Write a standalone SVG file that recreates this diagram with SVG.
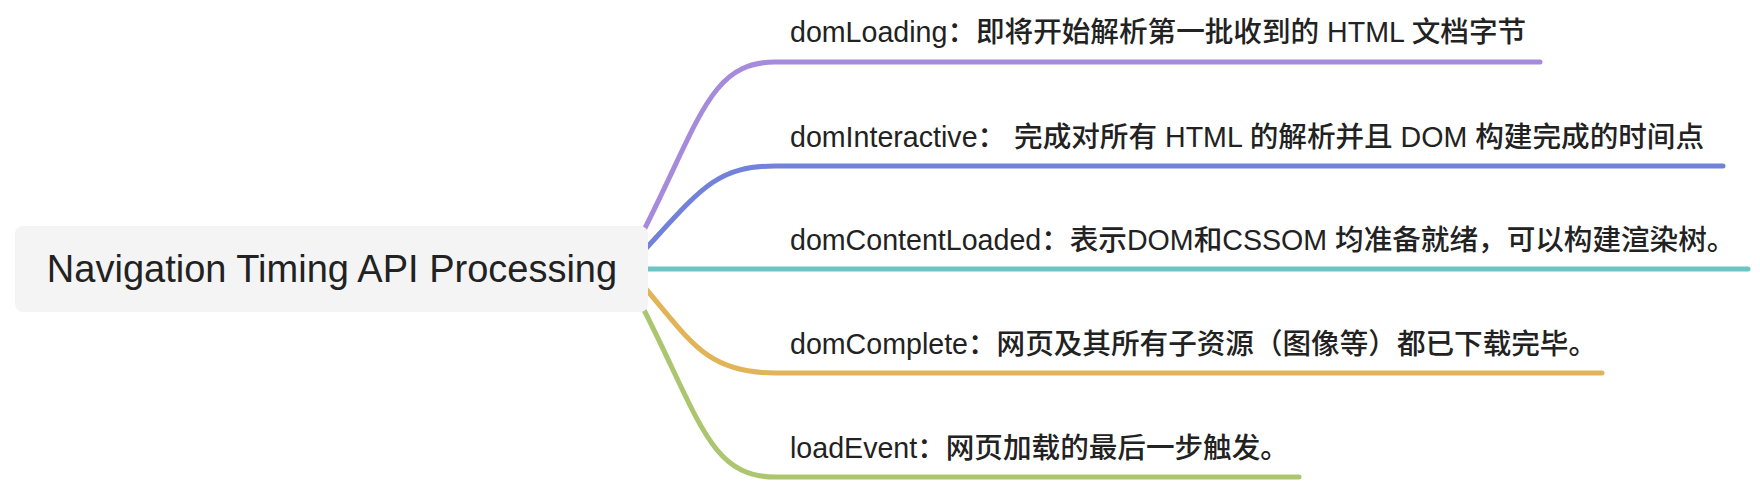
<svg xmlns="http://www.w3.org/2000/svg" width="1760" height="482" viewBox="0 0 1760 482">
<style>
.conn{fill:none;stroke-width:5;stroke-linecap:round;stroke-linejoin:round}
.lbl{font-family:"Liberation Sans","Noto Sans CJK SC",sans-serif;font-size:28.6px;font-weight:500;fill:#222222}
.root{font-family:"Liberation Sans","Noto Sans CJK SC",sans-serif;font-size:38px;fill:#222222}
</style>
<rect width="1760" height="482" fill="#ffffff"/>
<g id="connectors">
<path class="conn" stroke="#a68bdc" d="M 643 232 C 700 120, 710 62, 775 62 L 1540 62"/>
<path class="conn" stroke="#7282da" d="M 640 255 C 700 190, 715 166, 775 166 L 1723 166"/>
<path class="conn" stroke="#6cc4c5" d="M 640 269 L 1748 269"/>
<path class="conn" stroke="#e1b457" d="M 640 282 C 690 340, 705 373, 775 373 L 1602 373"/>
<path class="conn" stroke="#abc66f" d="M 643 308 C 700 420, 710 477, 775 477 L 1299 477"/>
</g>
<g id="root">
<rect x="15" y="226" width="633" height="86" rx="8" ry="8" fill="#f4f4f4"/>
<text class="root" x="332" y="282" text-anchor="middle">Navigation Timing API Processing</text>
</g>
<g id="n1"><text class="lbl" x="790" y="42">domLoading：即将开始解析第一批收到的 HTML 文档字节</text></g>
<g id="n2"><text class="lbl" x="790" y="147">domInteractive： 完成对所有 HTML 的解析并且 DOM 构建完成的时间点</text></g>
<g id="n3"><text class="lbl" x="790" y="250">domContentLoaded：表示DOM和CSSOM 均准备就绪，可以构建渲染树。</text></g>
<g id="n4"><text class="lbl" x="790" y="354">domComplete：网页及其所有子资源（图像等）都已下载完毕。</text></g>
<g id="n5"><text class="lbl" x="790" y="458">loadEvent：网页加载的最后一步触发。</text></g>
</svg>
